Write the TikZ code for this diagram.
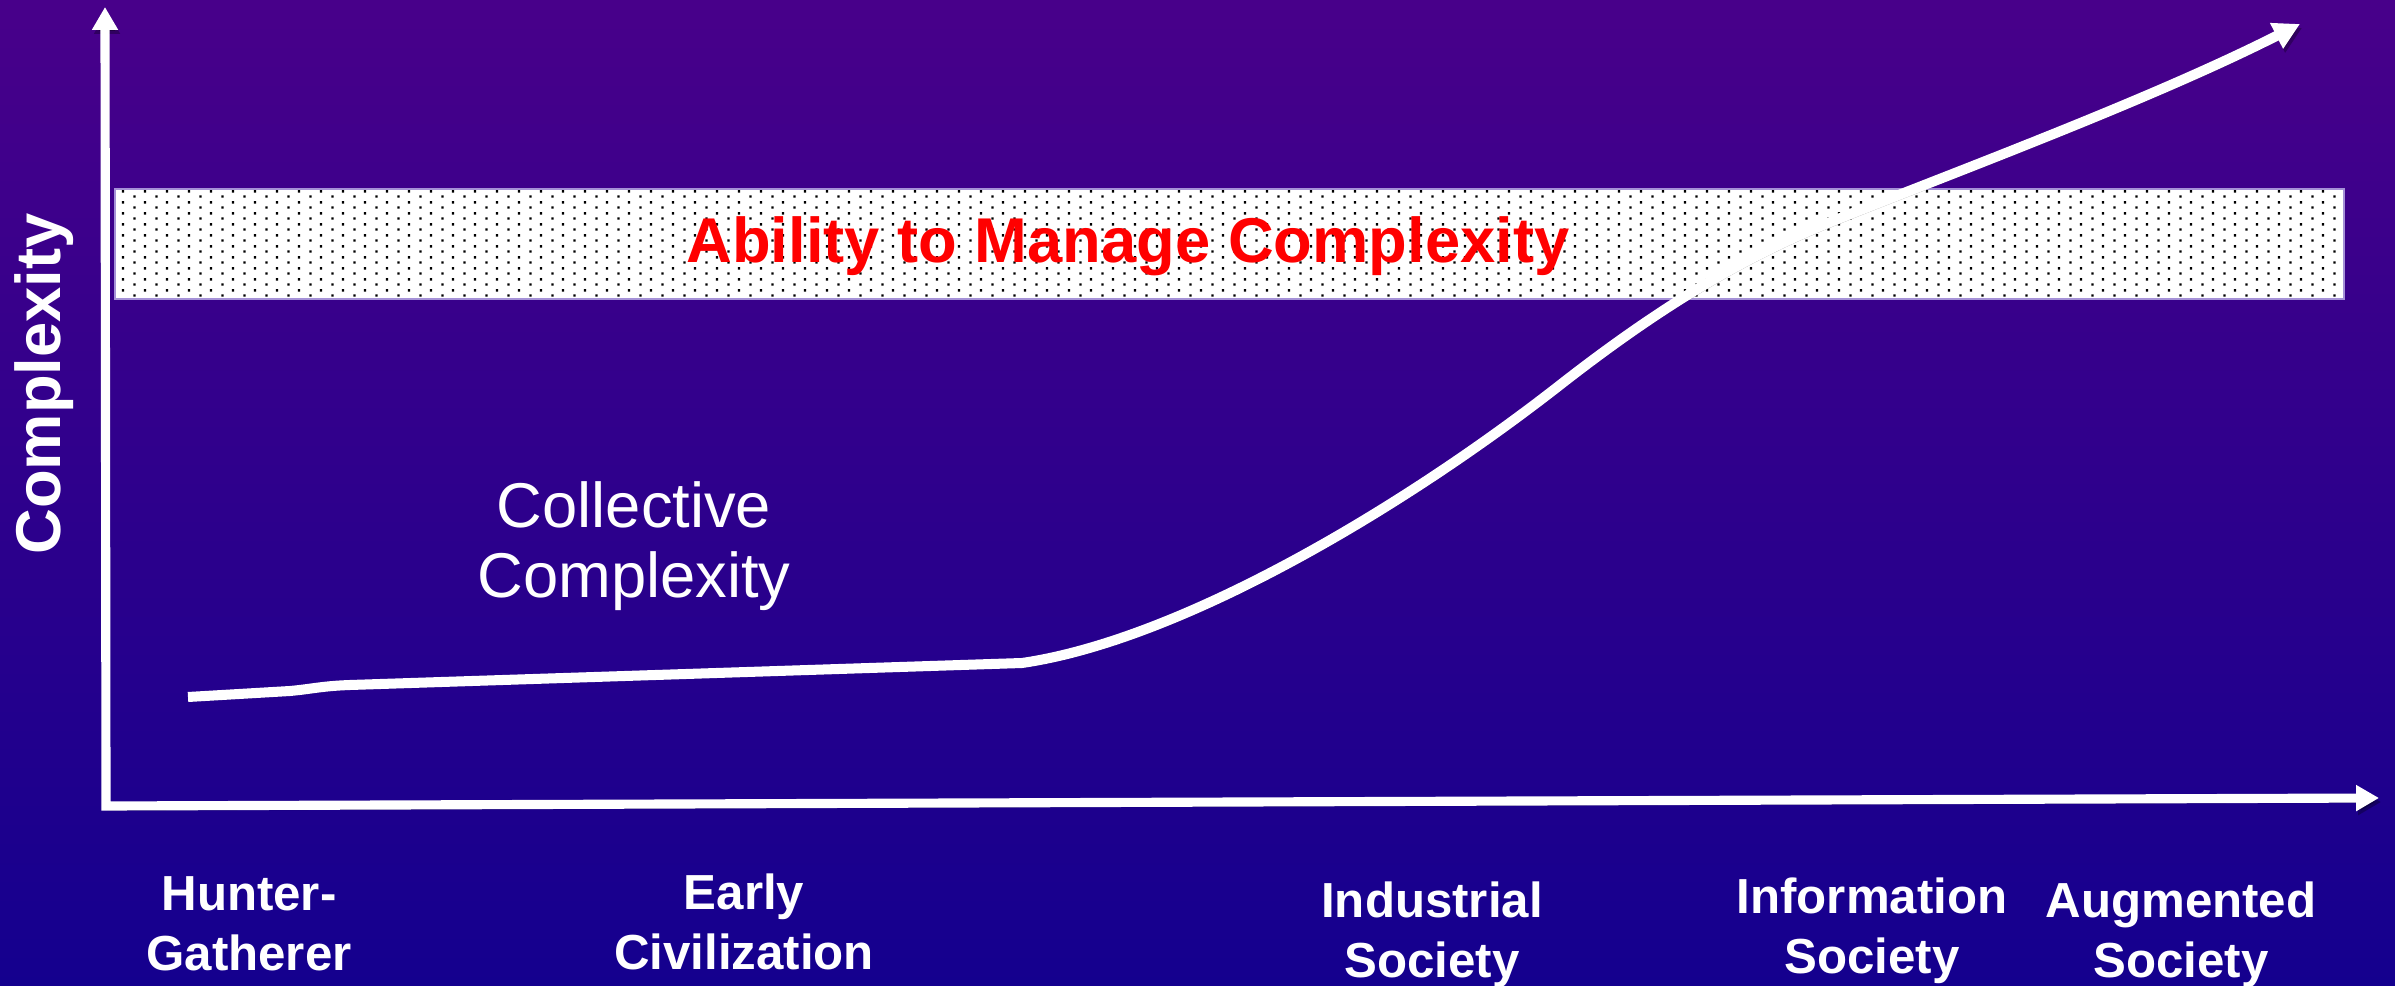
\documentclass[tikz,border=0pt]{standalone}
\usepackage{fontspec}
\setmainfont{Liberation Sans}
\usetikzlibrary{arrows.meta,patterns}

\definecolor{bgtop}{RGB}{72,0,138}
\definecolor{bgbottom}{RGB}{20,0,142}
\definecolor{bandedge}{RGB}{165,145,215}
\definecolor{bandred}{RGB}{255,0,0}

% small staggered dots for the band
\pgfdeclarepatternformonly{banddots}{\pgfqpoint{0pt}{0pt}}{\pgfqpoint{6.26pt}{3.16pt}}{\pgfqpoint{6.26pt}{3.16pt}}{
  \pgfpathrectangle{\pgfqpoint{0.4pt}{0.4pt}}{\pgfqpoint{0.7pt}{0.7pt}}
  \pgfpathrectangle{\pgfqpoint{3.53pt}{1.98pt}}{\pgfqpoint{0.7pt}{0.7pt}}
  \pgfusepath{fill}
}

\begin{document}
\begin{tikzpicture}[x=0.01cm, y=-0.01cm,
    axisline/.style={white, line width=2.6pt, line join=miter},
    growth/.style={white, line width=2.85pt, line join=round},
    shadowed/.style={preaction={draw=black, opacity=0.3, transform canvas={shift={(2,4)}}}},
    era/.style={white, align=center, font=\bfseries\fontsize{14}{17}\selectfont},
    ]
    % Background
    \shade[top color=bgtop, bottom color=bgbottom] (0,0) rectangle (2395,986);
    \useasboundingbox (0,0) rectangle (2395,986);

    % Draw the band
    \fill[white] (115,189) rectangle (2344,299);
    \fill[pattern=banddots] (115,189) rectangle (2344,299);
    \draw[bandedge, line width=0.4pt] (115,189) rectangle (2344,299);
    \node[bandred, anchor=base, font=\bfseries\fontsize{18}{22}\selectfont] (ability) at (1128,263) {Ability to Manage Complexity};

    % Draw axes
    \coordinate (ytip) at (105,7);
    \coordinate (origin) at (106,806);
    \coordinate (xtip) at (2379,798);
    \draw[axisline, shadowed, {Triangle[length=6.5pt,width=7pt]}-{Triangle[length=6.5pt,width=7pt]}] (ytip) -- (origin) -- (xtip);

    % Draw the curve
    \draw[growth, shadowed, -{Triangle[length=7.5pt,width=7.7pt]}] (188,697) -- (290,691) .. controls (312,689) and (322,686) .. (350,685) -- (1022,663)
        .. controls (1180,640) and (1400,510) .. (1560,385)
        .. controls (1670,299) and (1753,253) .. (1833,221)
        .. controls (1950,174) and (2150,100) .. (2300,24);

    % Labels
    \node[white, rotate=90, font=\bfseries\fontsize{18}{22}\selectfont] (yaxis) at (44,384) {Complexity};
    \node[white, align=center, font=\fontsize{18}{20}\selectfont] (collective) at (634,546) {Collective\\Complexity};

    % Draw eras
    \node[era] (hunter) at (249,924) {Hunter-\\Gatherer};
    \node[era] (early) at (744,922) {Early\\Civilization};
    \node[era] (industrial) at (1432,935) {Industrial\\Society};
    \node[era] (information) at (1872,931) {Information\\Society};
    \node[era] (augmented) at (2181,935) {Augmented\\Society};
\end{tikzpicture}
\end{document}
